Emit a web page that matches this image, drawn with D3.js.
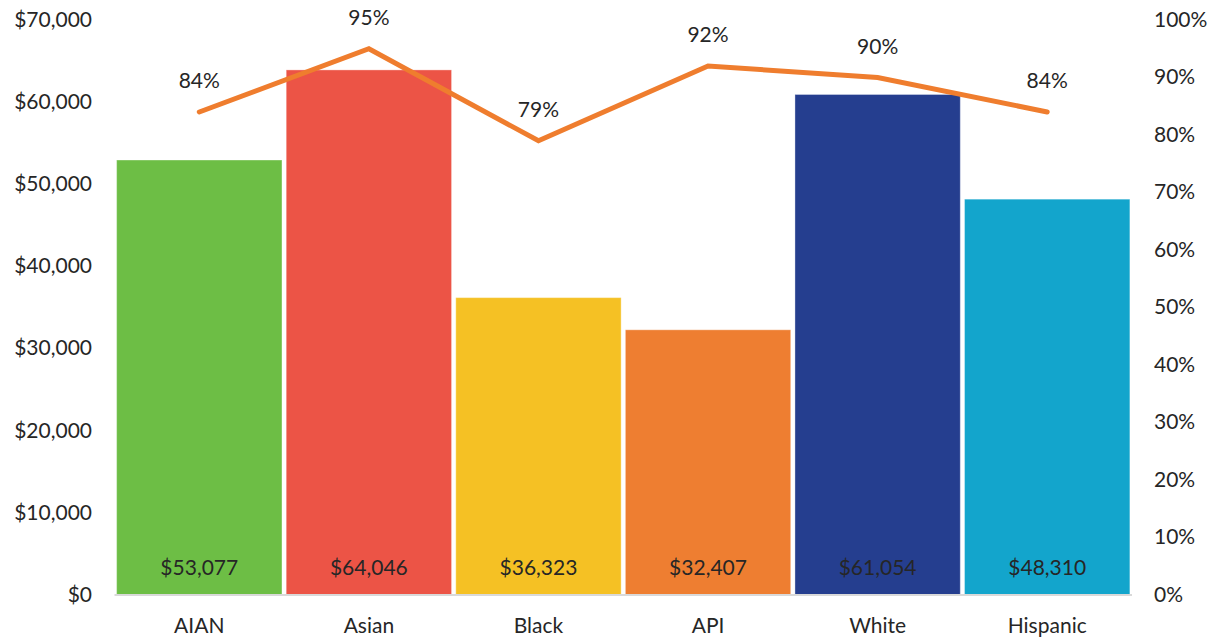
<!DOCTYPE html>
<html><head><meta charset="utf-8">
<script src="https://cdn.jsdelivr.net/npm/d3@7"></script>
<style>
html,body{margin:0;padding:0;background:#fff;}
svg text{font-family:"Lato","Liberation Sans",sans-serif;fill:#262626;}
</style></head>
<body>
<svg id="c" width="1209" height="639"></svg>
<script>
const categories = ["AIAN","Asian","Black","API","White","Hispanic"];
const incomes = [53077, 64046, 36323, 32407, 61054, 48310];
const percents = [0.84, 0.95, 0.79, 0.92, 0.90, 0.84];
const barColors = ["#6dbe45","#ec5446","#f5c124","#ee7e31","#253e8f","#13a5cc"];
const leftTicks = [0,10000,20000,30000,40000,50000,60000,70000];
const rightTicks = [0,0.1,0.2,0.3,0.4,0.5,0.6,0.7,0.8,0.9,1.0];

const svg = d3.select("#c");
const fs = 21;
const x = d3.scaleBand().domain(categories).range([114.5,1132]).paddingInner(0.025).paddingOuter(0.0125);
const y = d3.scaleLinear().domain([0,70000]).range([596,21]);
const y2 = d3.scaleLinear().domain([0,1]).range([595,20]);

// left axis
const la = svg.append("g").attr("transform","translate(92,0)")
  .call(d3.axisLeft(y).tickValues(leftTicks).tickSize(0).tickPadding(0).tickFormat(d=>"$"+d3.format(",")(d)));
la.select(".domain").remove();
la.selectAll("text").attr("font-size",fs).attr("dy","0.35em").attr("y",-2);

// right axis
const ra = svg.append("g").attr("transform","translate(1154,0)")
  .call(d3.axisRight(y2).tickValues(rightTicks).tickSize(0).tickPadding(0).tickFormat(d3.format(".0%")));
ra.select(".domain").remove();
ra.selectAll("text").attr("font-size",fs).attr("dy","0.35em").attr("y",-1);

// bars
svg.append("g").selectAll("rect").data(categories).join("rect")
  .attr("x",d=>x(d)).attr("width",x.bandwidth())
  .attr("y",(d,i)=>y(incomes[i])).attr("height",(d,i)=>y(0)-y(incomes[i]))
  .attr("fill",(d,i)=>barColors[i])
  .attr("stroke","#ffffff").attr("stroke-opacity",0.35).attr("stroke-width",1);

// baseline
svg.append("line").attr("x1",x.range()[0]).attr("x2",x.range()[1])
  .attr("y1",y(0)-1).attr("y2",y(0)-1).attr("stroke","#d9d9d9").attr("stroke-width",2);

// bar value labels
svg.append("g").selectAll("text").data(categories).join("text")
  .attr("x",d=>x(d)+x.bandwidth()/2).attr("y",568).attr("dy","0.35em")
  .attr("text-anchor","middle").attr("font-size",fs)
  .text((d,i)=>"$"+d3.format(",")(incomes[i]));

// category axis
const ba = svg.append("g").attr("transform","translate(0,626)")
  .call(d3.axisBottom(x).tickSize(0).tickPadding(0));
ba.select(".domain").remove();
ba.selectAll("text").attr("font-size",fs).attr("dy","0.35em");

// line
const line = d3.line().x((d,i)=>x(categories[i])+x.bandwidth()/2).y(d=>y2(d));
svg.append("path").datum(percents).attr("d",line)
  .attr("fill","none").attr("stroke","#ef7d2e").attr("stroke-width",5)
  .attr("stroke-linecap","round").attr("stroke-linejoin","miter");

svg.append("g").selectAll("text").data(percents).join("text")
  .attr("x",(d,i)=>x(categories[i])+x.bandwidth()/2).attr("y",d=>y2(d)-31).attr("dy","0.35em")
  .attr("text-anchor","middle").attr("font-size",fs)
  .text(d=>d3.format(".0%")(d));
</script>
</body></html>
